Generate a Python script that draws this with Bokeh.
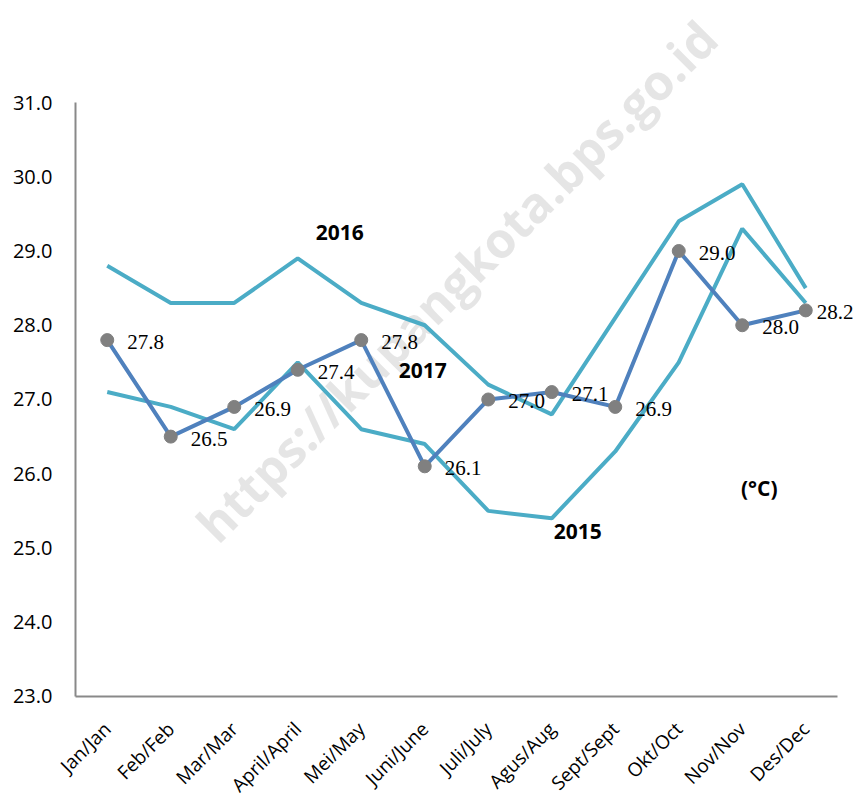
import math
from bokeh.plotting import figure
from bokeh.models import ColumnDataSource, Range1d, LabelSet
from bokeh.core.properties import value
from bokeh.embed import file_html
from bokeh.resources import INLINE

months = ["Jan/Jan", "Feb/Feb", "Mar/Mar", "April/April", "Mei/May", "Juni/June",
          "Juli/July", "Agus/Aug", "Sept/Sept", "Okt/Oct", "Nov/Nov", "Des/Dec"]
t2015 = [27.1, 26.9, 26.6, 27.5, 26.6, 26.4, 25.5, 25.4, 26.3, 27.5, 29.3, 28.3]
t2016 = [28.8, 28.3, 28.3, 28.9, 28.3, 28.0, 27.2, 26.8, 28.1, 29.4, 29.9, 28.5]
t2017 = [27.8, 26.5, 26.9, 27.4, 27.8, 26.1, 27.0, 27.1, 26.9, 29.0, 28.0, 28.2]
y_ticks = [23, 24, 25, 26, 27, 28, 29, 30, 31]
y_tick_labels = ["23.0", "24.0", "25.0", "26.0", "27.0", "28.0", "29.0", "30.0", "31.0"]
unit_label = "(°C)"
watermark = "https://kupangkota.bps.go.id"

CYAN = "#4BACC6"
BLUE = "#4F81BD"
GREY = "#808080"
AXIS = "#898989"

xs = list(range(len(months)))
y_min, y_max = y_ticks[0], y_ticks[-1]
x_lo, x_hi = xs[0] - 0.5, xs[-1] + 0.5

# the frame fills the figure; both axes are drawn inside it
p = figure(x_range=Range1d(-1.6811, 11.752),
           y_range=Range1d(21.599, 32.32),
           width=853, height=800, output_backend="svg", toolbar_location=None,
           x_axis_location=None, y_axis_location=None,
           min_border_left=0, min_border_right=0, min_border_top=4, min_border_bottom=0)
p.outline_line_color = None
p.xgrid.grid_line_color = None
p.ygrid.grid_line_color = None
p.background_fill_color = "white"

# watermark
p.text(x=[6], y=[28.6], text=[watermark], angle=math.pi / 4, x_offset=-32,
       text_align="center", text_baseline="middle",
       text_font=value("Open Sans"), text_font_style="bold", text_font_size="49px",
       text_color="#cfcfcf", text_alpha=0.55)

# axis lines
p.segment(x0=[x_lo, x_lo], y0=[y_min, y_min], x1=[x_hi, x_lo], y1=[y_min, y_max],
          line_color=AXIS, line_width=2)

# y tick labels
p.text(x=[x_lo] * len(y_ticks), y=y_ticks, text=y_tick_labels, x_offset=-23,
       text_align="right", text_baseline="middle",
       text_font=value("Open Sans"), text_font_size="20px", text_color="black")

# x category labels
p.text(x=xs, y=[y_min] * len(xs), text=months, angle=math.pi / 4,
       x_offset=0, y_offset=29, text_align="right", text_baseline="middle",
       text_font=value("Open Sans"), text_font_size="19px", text_color="black")

# series lines
p.line(xs, t2015, line_color=CYAN, line_width=4)
p.line(xs, t2016, line_color=CYAN, line_width=4)
p.line(xs, t2017, line_color=BLUE, line_width=4)
p.scatter(xs, t2017, size=13, fill_color=GREY, line_color=GREY)

# data labels for 2017
src = ColumnDataSource(dict(x=xs, y=t2017, txt=[f"{v:.1f}" for v in t2017],
                            dx=[20] * 11 + [11]))
p.add_layout(LabelSet(x="x", y="y", text="txt", source=src, x_offset="dx", y_offset=-2,
                      text_baseline="middle", text_align="left",
                      text_font="Liberation Serif", text_font_size="21px", text_color="black"))

# series names
def tag(x, y, txt, dx):
    p.text(x=[x], y=[y], text=[txt], x_offset=dx, text_align="center", text_baseline="middle",
           text_font=value("Open Sans"), text_font_style="bold", text_font_size="21px",
           text_color="black")

tag(3, t2016[3] + 0.35, "2016", 42)
tag(5, 27.39, "2017", -2)
tag(7, t2015[7] - 0.18, "2015", 26)
tag(10, 25.81, unit_label, 17)

open("out.html", "w").write(file_html(p, INLINE))
